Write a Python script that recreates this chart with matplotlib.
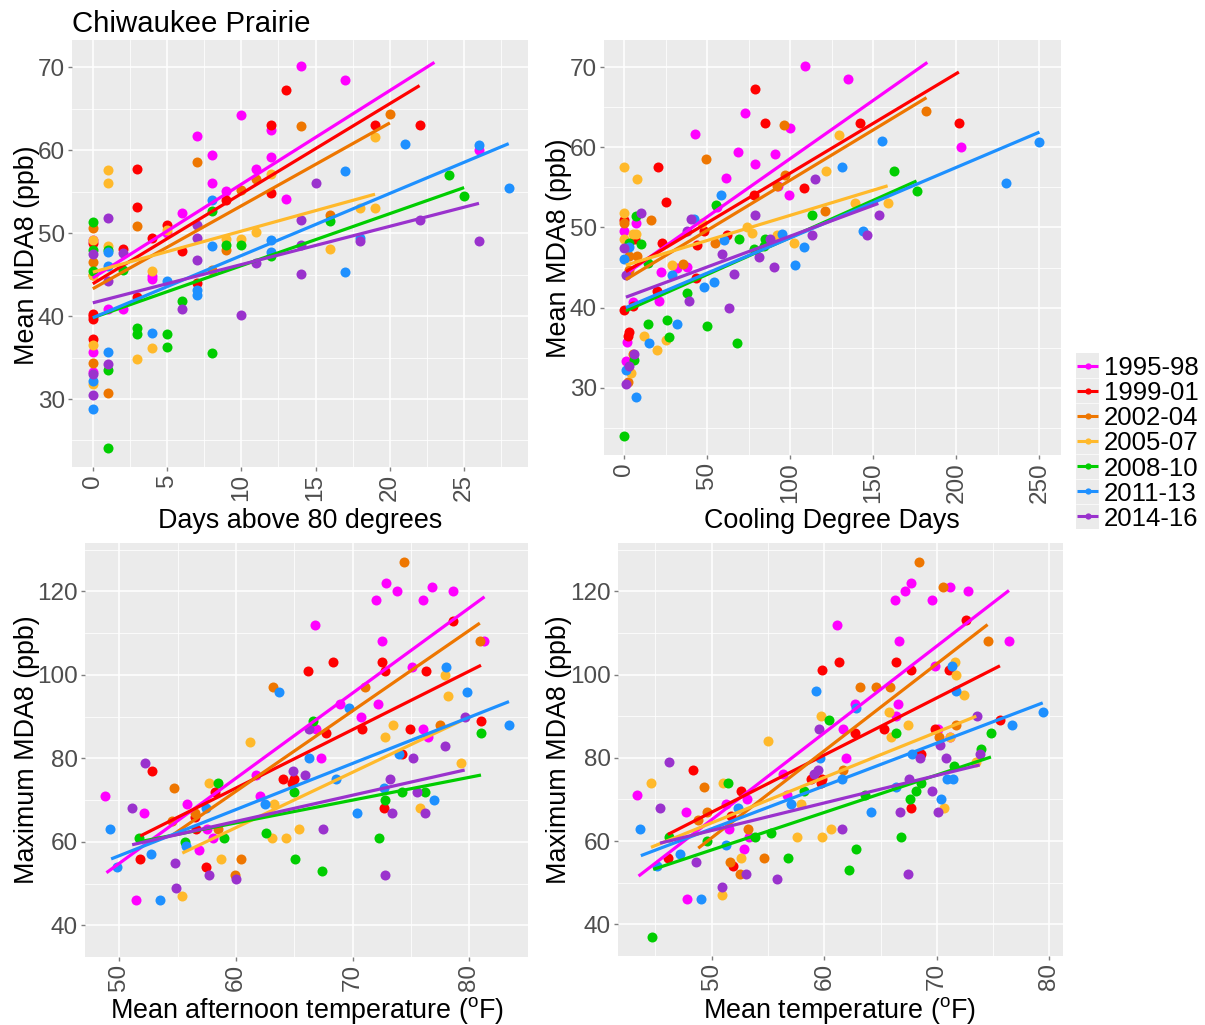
import matplotlib
matplotlib.use("Agg")
import matplotlib.pyplot as plt
from matplotlib.ticker import MultipleLocator

plt.rcParams["font.family"] = ["Liberation Sans", "DejaVu Sans"]
plt.rcParams["mathtext.fontset"] = "custom"
plt.rcParams["mathtext.rm"] = "Liberation Sans"
plt.rcParams["mathtext.default"] = "regular"

periods = ["1995-98", "1999-01", "2002-04", "2005-07", "2008-10", "2011-13", "2014-16"]
colors = ["#FF00FF", "#FF0000", "#EE7600", "#FFB92B", "#00CD00", "#1E90FF", "#9A32CD"]

# --- days above 80 degrees vs mean MDA8
days_x_9598 = [14, 17, 10, 7, 12, 8, 12, 11, 8, 9, 13, 6, 5, 4, 4, 1, 2, 0, 0, 0, 26]
days_y_9598 = [70.2, 68.5, 64.3, 61.7, 62.4, 59.4, 59.2, 57.8, 56.1, 55.1, 54.1, 52.4, 50.0, 44.5, 44.8, 40.9, 40.8, 35.7, 33.2, 49.2, 60.0]
days_x_9901 = [13, 12, 22, 19, 3, 3, 12, 9, 5, 4, 6, 2, 7, 3, 0, 0, 0, 0, 0]
days_y_9901 = [67.3, 63.1, 63.05, 63.0, 57.7, 53.2, 54.9, 54.0, 51.0, 49.4, 47.8, 48.1, 44.0, 42.3, 40.3, 40.0, 39.7, 37.2, 48.8]
days_x_0204 = [14, 7, 20, 11, 10, 3, 0, 16, 0, 0, 0, 1, 8, 9]
days_y_0204 = [62.9, 58.6, 64.4, 56.5, 55.2, 50.9, 50.6, 52.2, 46.5, 45.0, 34.3, 30.7, 45.6, 48.0]
days_x_0507 = [1, 1, 12, 19, 11, 5, 9, 10, 1, 0, 4, 3, 4, 0, 0, 16, 18, 19, 0]
days_y_0507 = [57.6, 56.0, 57.1, 61.6, 50.1, 50.4, 49.3, 49.3, 48.5, 49.2, 45.4, 34.8, 36.1, 36.5, 31.8, 48.1, 53.0, 53.0, 45.0]
days_x_0810 = [0, 8, 9, 10, 12, 1, 0, 0, 2, 6, 3, 3, 5, 5, 8, 1, 1, 24, 25, 16]
days_y_0810 = [51.4, 52.7, 48.6, 48.6, 47.2, 48.0, 48.0, 45.4, 45.6, 41.8, 38.6, 37.9, 37.8, 36.3, 35.6, 33.5, 24.1, 57.0, 54.5, 51.5]
days_x_1113 = [26, 21, 28, 17, 8, 8, 12, 12, 1, 1, 5, 7, 7, 4, 1, 0, 0, 17, 18]
days_y_1113 = [60.6, 60.8, 55.5, 57.5, 54.0, 48.4, 49.2, 47.7, 47.7, 46.1, 44.2, 43.2, 42.6, 38.0, 35.7, 32.2, 28.8, 45.3, 49.4]
days_x_1416 = [1, 7, 7, 2, 7, 1, 6, 10, 0, 1, 0, 0, 11, 14, 15, 14, 14, 18, 22, 26]
days_y_1416 = [51.8, 51.0, 49.4, 47.6, 46.8, 44.2, 40.9, 40.1, 47.5, 34.2, 33.0, 30.5, 46.4, 51.6, 56.0, 45.1, 48.6, 49.0, 51.6, 49.0]
days_fit_x = [[0, 23], [0, 22], [0, 20], [0, 19], [0, 25], [0, 28], [0, 26]]
days_fit_y = [[44.6, 70.6], [43.9, 67.8], [43.3, 63.3], [45.3, 54.7], [39.8, 55.5], [39.8, 60.8], [41.6, 53.6]]

# --- cooling degree days vs mean MDA8
cdd_x_9598 = [108.6, 73, 99.8, 42.6, 68.3, 90.6, 79, 61, 99, 92.8, 55.6, 7, 0, 21.9, 31.5, 38, 21, 5.4, 1.8, 1, 135, 203]
cdd_y_9598 = [70.2, 64.3, 62.4, 61.7, 59.4, 59.2, 57.9, 56.2, 54.1, 55.2, 52.5, 50.5, 49.5, 44.5, 45.0, 45.1, 40.8, 40.7, 35.7, 33.3, 68.5, 60.0]
cdd_x_9901 = [79, 85, 142, 201.5, 108.4, 78, 20.5, 25.3, 48, 62, 44, 23, 43, 19.5, 0, 3, 2, 0, 5, 6.4]
cdd_y_9901 = [67.3, 63.1, 63.0, 63.1, 54.9, 54.0, 57.6, 53.2, 49.5, 49.1, 47.8, 48.0, 43.7, 42.1, 39.7, 37.0, 36.4, 50.9, 40.2, 48.5]
cdd_x_0204 = [96.4, 49.4, 97, 92, 16, 0, 54.6, 35.3, 7.4, 182, 121, 2, 5, 3, 3]
cdd_y_0204 = [62.8, 58.6, 56.5, 55.2, 50.9, 50.6, 48.0, 45.5, 46.4, 64.5, 52.0, 30.7, 34.2, 46.5, 44.7]
cdd_x_0507 = [0, 7.5, 0, 5, 0, 129.4, 121.5, 138.8, 158.6, 102, 92, 74, 76.7, 46.6, 29, 12, 25, 20, 4, 7]
cdd_y_0507 = [57.6, 56.0, 51.8, 49.2, 48.5, 61.6, 57.0, 53.0, 53.0, 48.1, 49.0, 50.0, 49.3, 50.5, 45.3, 36.4, 36.0, 34.7, 31.8, 49.2]
cdd_x_0810 = [0, 7, 10, 14, 14, 26, 27, 38, 50, 68, 55, 69, 78, 85, 84, 113, 162.4, 176, 6, 3]
cdd_y_0810 = [24.0, 51.4, 47.9, 45.6, 37.9, 38.5, 36.3, 41.8, 37.7, 35.6, 52.8, 48.5, 47.3, 48.5, 47.7, 51.5, 57.0, 54.5, 33.5, 48.0]
cdd_x_1113 = [0, 3, 42, 58, 60, 95, 108, 103, 54, 48, 29, 32, 15, 1, 7, 131, 155, 250, 230, 143.6]
cdd_y_1113 = [46.1, 47.6, 51.0, 54.0, 48.4, 49.2, 47.6, 45.3, 43.2, 42.6, 44.1, 37.9, 35.6, 32.2, 28.8, 57.5, 60.8, 60.7, 55.5, 49.5]
cdd_x_1416 = [10, 0, 40, 38, 79, 88, 81, 90, 113, 115, 59, 66, 63, 39, 6, 3, 1, 1, 146, 153.6]
cdd_y_1416 = [51.8, 47.5, 51.0, 49.6, 51.6, 48.5, 46.3, 45.1, 49.0, 56.0, 46.7, 44.2, 40.0, 40.8, 34.2, 32.7, 30.4, 44.1, 49.0, 51.6]
cdd_fit_x = [[3, 182.5], [1, 201.5], [1, 182], [1, 158.6], [1, 176], [1, 250], [1, 153]]
cdd_fit_y = [[44.5, 70.6], [44.5, 69.4], [43.5, 66.2], [45.3, 55.2], [39.6, 55.8], [40.0, 61.9], [41.3, 53.0]]

# --- mean afternoon temperature vs maximum MDA8
aft_x_9598 = [48.8, 52.1, 51.4, 55.8, 56.8, 58, 57.5, 62.1, 61.7, 66.8, 68.9, 70.7, 72.2, 72.5, 72, 72.9, 73.8, 76, 76.8, 78.6, 75.1, 76, 76.5, 67.3, 66.9, 81.3]
aft_y_9598 = [71, 67, 46, 69, 58, 61, 63, 71, 76, 112, 93, 90, 93, 108, 118, 122, 120, 118, 121, 120, 102, 87, 85, 80, 87, 108]
aft_x_9901 = [52.8, 51.8, 58.2, 56.5, 56.6, 57.4, 64, 65, 64.8, 66.2, 68.3, 67.7, 70.8, 72.5, 72.8, 74.9, 76.3, 78.6, 81, 74.2, 72.7]
aft_y_9901 = [77, 56, 72, 66, 63, 54, 75, 75, 74, 101, 103, 86, 87, 103, 101, 87, 101, 113, 89, 81, 68]
aft_x_0204 = [63.2, 54.7, 54.5, 56.5, 58.5, 60.4, 59.9, 74.4, 71.1, 80.9, 77.5]
aft_y_0204 = [97, 73, 65, 67, 63, 56, 52, 127, 97, 108, 88]
aft_x_0507 = [57.7, 61.2, 63.3, 58.7, 55.4, 63.1, 64.3, 65.4, 72.8, 73.5, 77.9, 78.2, 79.3, 75.8]
aft_y_0507 = [74, 84, 69, 56, 47, 61, 61, 63, 85, 88, 100, 95, 79, 68]
aft_x_0810 = [51.7, 58.5, 55.6, 59, 62.6, 65.1, 65, 66.6, 67.4, 72.3, 72.8, 74.2, 76.2, 81]
aft_y_0810 = [61, 74, 60, 61, 62, 56, 72, 89, 53, 61, 70, 72, 72, 86]
aft_x_1113 = [49.2, 49.8, 52.7, 53.5, 55.7, 57.4, 62.5, 63.7, 66.3, 68.6, 69.7, 70.4, 72.7, 74, 77, 78, 79.8, 83.4]
aft_y_1113 = [63, 54, 57, 46, 59, 68, 69, 96, 80, 75, 92, 67, 73, 81, 70, 102, 96, 88]
aft_x_1416 = [51.1, 52.2, 54.8, 54.9, 57.7, 60, 64.9, 65.9, 66.3, 67.5, 73.2, 75.2, 73.4, 72.8, 75.5, 76.2, 77.9, 79.6]
aft_y_1416 = [68, 79, 55, 49, 52, 51, 77, 76, 87, 63, 75, 80, 67, 52, 72, 67, 83, 90]
aft_fit_x = [[48.9, 81.3], [51.8, 81], [54.6, 80.9], [55.4, 79.3], [51.7, 81], [49.3, 83.4], [51.1, 79.6]]
aft_fit_y = [[52.6, 118.7], [61.4, 102.3], [61.7, 112.4], [57.3, 89.0], [60.0, 76.0], [55.9, 93.6], [59.3, 77.2]]

# --- mean temperature vs maximum MDA8
tmean_x_9598 = [43.4, 47.7, 47.8, 51.3, 52.9, 51.5, 53.3, 53.1, 56.3, 56.7, 61.1, 61.9, 61.7, 62.7, 66.4, 66.5, 66.6, 66.3, 67.2, 67.7, 69.6, 71.2, 72.8, 69.8, 70.1, 71.2, 76.4]
tmean_y_9598 = [71, 67, 46, 69, 58, 63, 61, 70, 76, 71, 112, 80, 87, 93, 90, 93, 108, 118, 120, 122, 118, 121, 120, 102, 87, 85, 108]
tmean_x_9901 = [46.1, 48.3, 52.6, 51.7, 51.9, 59.8, 58.8, 59.8, 59.7, 61.3, 62.7, 65.3, 66.4, 67.7, 69.8, 71.1, 72.6, 68.6, 67.7, 75.6]
tmean_y_9901 = [56, 77, 72, 66, 54, 101, 75, 75, 74, 103, 86, 87, 103, 101, 87, 101, 113, 81, 68, 89]
tmean_x_0204 = [49.3, 49.6, 48.8, 53.2, 51.6, 52.5, 54.6, 63.2, 64.6, 65.8, 68.4, 70.5, 74.5, 71.7, 70.2, 61.7]
tmean_y_0204 = [73, 67, 65, 63, 55, 52, 56, 97, 97, 97, 127, 121, 108, 88, 85, 77]
tmean_x_0507 = [44.6, 51, 55, 52.6, 50.9, 57.6, 59.8, 60.6, 57.9, 59.7, 65.7, 65.9, 67.4, 71.6, 71.7, 72.4, 70.6, 71.2, 73.5]
tmean_y_0507 = [74, 74, 84, 56, 47, 61, 61, 63, 69, 90, 91, 85, 88, 103, 100, 95, 68, 85, 79]
tmean_x_0810 = [44.7, 46.2, 51.4, 49.6, 53.8, 55.3, 56.8, 58.2, 60.4, 62.8, 62.2, 66.4, 66.8, 67.6, 68.1, 68.6, 71.5, 73.9, 74.8, 63.6]
tmean_y_0810 = [37, 61, 74, 60, 61, 62, 56, 72, 89, 58, 53, 86, 61, 70, 72, 74, 78, 82, 86, 71]
tmean_x_1113 = [43.6, 45.1, 47.2, 49, 51.3, 52.3, 57, 59.3, 59.6, 62.8, 61.6, 64.1, 66.4, 67.8, 70.4, 70.9, 71.4, 71.3, 71.7, 76.7, 79.4]
tmean_y_1113 = [63, 54, 57, 46, 59, 68, 69, 96, 80, 92, 75, 67, 73, 81, 70, 75, 75, 102, 96, 88, 91]
tmean_x_1416 = [45.4, 46.2, 48.6, 50.9, 53, 55.8, 59.1, 59.4, 59.5, 61.6, 66.7, 67.5, 68.5, 67.4, 69.6, 70.1, 70.3, 70.8, 73.6, 73.8]
tmean_y_1416 = [68, 79, 55, 49, 52, 51, 76, 77, 87, 63, 67, 75, 80, 52, 72, 67, 83, 80, 90, 81]
tmean_fit_x = [[43.5, 76.4], [46.1, 75.6], [48.8, 74.5], [44.6, 73.5], [44.8, 74.8], [43.7, 79.4], [45.4, 73.8]]
tmean_fit_y = [[51.6, 120.2], [61.6, 102.1], [58.3, 112.0], [58.5, 90.0], [53.2, 80.2], [56.5, 93.2], [59.5, 78.3]]

W, H = 1205, 1025
GREY = "#EBEBEB"
TXT = "#4D4D4D"

fig = plt.figure(figsize=(W / 100, H / 100), dpi=100)


def px_axes(left, top, right, bottom):
    return fig.add_axes([left / W, 1 - bottom / H, (right - left) / W, (bottom - top) / H])


def draw_panel(box, xs, ys, fit_x, fit_y, xlim, ylim, xstep, ystep, xlabel, ylabel, xlab_px, ylab_px):
    ax = px_axes(*box)
    ax.set_facecolor(GREY)
    for s in ax.spines.values():
        s.set_visible(False)
    ax.set_axisbelow(True)
    for x, y, c in zip(xs, ys, colors):
        ax.scatter(x, y, s=52, color=c, linewidths=0, zorder=2, clip_on=False)
    for x, y, c in zip(fit_x, fit_y, colors):
        ax.plot(x, y, color=c, lw=2.3, solid_capstyle="butt", zorder=3)
    ax.set_xlim(*xlim)
    ax.set_ylim(*ylim)
    ax.xaxis.set_major_locator(MultipleLocator(xstep))
    ax.xaxis.set_minor_locator(MultipleLocator(xstep / 2))
    ax.yaxis.set_major_locator(MultipleLocator(ystep))
    ax.yaxis.set_minor_locator(MultipleLocator(ystep / 2))
    ax.grid(which="major", color="white", lw=1.1)
    ax.grid(which="minor", color="white", lw=0.55)
    ax.tick_params(which="minor", length=0)
    ax.tick_params(which="major", length=3, width=1, color="#7F7F7F", labelcolor=TXT,
                   labelsize=17.5, pad=2)
    ax.tick_params(axis="x", labelrotation=90)
    ax.set_xlabel(xlabel, fontsize=19.4, color="black", va="center")
    ax.set_ylabel(ylabel, fontsize=19.4, color="black", va="center")
    ax.xaxis.set_label_coords(xlab_px[0] / W, 1 - xlab_px[1] / H, transform=fig.transFigure)
    ax.yaxis.set_label_coords(ylab_px[0] / W, 1 - ylab_px[1] / H, transform=fig.transFigure)
    return ax


ax1 = draw_panel((72, 40, 528, 467),
                 [days_x_9598, days_x_9901, days_x_0204, days_x_0507, days_x_0810, days_x_1113, days_x_1416],
                 [days_y_9598, days_y_9901, days_y_0204, days_y_0507, days_y_0810, days_y_1113, days_y_1416],
                 days_fit_x, days_fit_y, (-1.4, 29.3), (21.8, 73.3), 5, 10,
                 "Days above 80 degrees", "Mean MDA8 (ppb)", (300, 521), (27, 255))
ax2 = draw_panel((604, 40, 1061, 455),
                 [cdd_x_9598, cdd_x_9901, cdd_x_0204, cdd_x_0507, cdd_x_0810, cdd_x_1113, cdd_x_1416],
                 [cdd_y_9598, cdd_y_9901, cdd_y_0204, cdd_y_0507, cdd_y_0810, cdd_y_1113, cdd_y_1416],
                 cdd_fit_x, cdd_fit_y, (-12.2, 263), (21.6, 73.4), 50, 10,
                 "Cooling Degree Days", "Mean MDA8 (ppb)", (832, 521), (559, 248))
ax3 = draw_panel((85, 543, 528, 957),
                 [aft_x_9598, aft_x_9901, aft_x_0204, aft_x_0507, aft_x_0810, aft_x_1113, aft_x_1416],
                 [aft_y_9598, aft_y_9901, aft_y_0204, aft_y_0507, aft_y_0810, aft_y_1113, aft_y_1416],
                 aft_fit_x, aft_fit_y, (47.06, 85.03), (32.4, 131.6), 10, 20,
                 "Mean afternoon temperature ($^{o}$F)", "Maximum MDA8 (ppb)", (307, 1010), (27, 750))
ax4 = draw_panel((618, 543, 1063, 956),
                 [tmean_x_9598, tmean_x_9901, tmean_x_0204, tmean_x_0507, tmean_x_0810, tmean_x_1113, tmean_x_1416],
                 [tmean_y_9598, tmean_y_9901, tmean_y_0204, tmean_y_0507, tmean_y_0810, tmean_y_1113, tmean_y_1416],
                 tmean_fit_x, tmean_fit_y, (41.67, 81.2), (32.4, 131.6), 10, 20,
                 "Mean temperature ($^{o}$F)", "Maximum MDA8 (ppb)", (840, 1010), (559, 750))

fig.text(72 / W, 1 - 32 / H, "Chiwaukee Prairie", fontsize=21.2, color="black", ha="left", va="baseline")

# legend built by hand: ggplot style grey key tiles
leg = px_axes(1076, 353, 1099, 529)
leg.set_xlim(0, 1)
leg.set_ylim(len(periods), 0)
leg.set_facecolor(GREY)
leg.set_xticks([])
leg.set_yticks([])
for s in leg.spines.values():
    s.set_visible(False)
for i, (name, c) in enumerate(zip(periods, colors)):
    if i:
        leg.axhline(i, color="white", lw=0.5)
    leg.plot([0.06, 0.94], [i + 0.5, i + 0.5], color=c, lw=2.2, solid_capstyle="butt")
    leg.plot([0.5], [i + 0.5], "o", color=c, ms=4.5, mew=0)
    leg.text(1.2, i + 0.5, name, fontsize=18.5, color="black", va="center_baseline", ha="left", clip_on=False)

fig.savefig("out.png", dpi=100)
